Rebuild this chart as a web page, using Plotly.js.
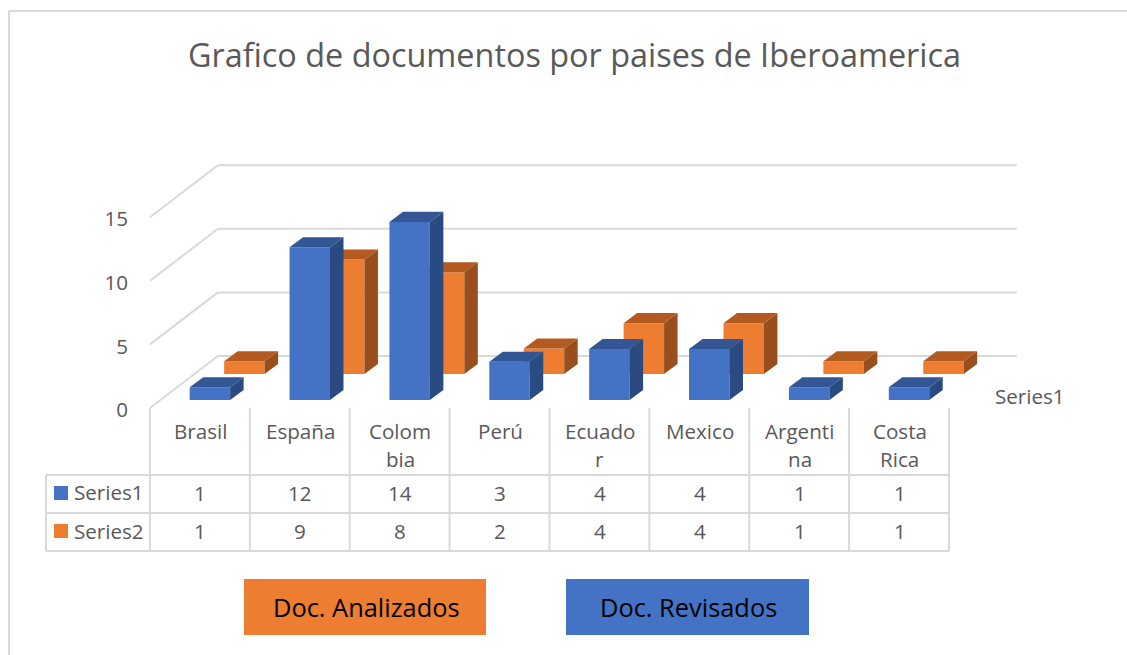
<!DOCTYPE html>
<html>
<head>
<meta charset="utf-8">
<script src="https://cdn.plot.ly/plotly-3.0.1.min.js"></script>
<style>html,body{margin:0;padding:0;background:#fff;overflow:hidden}#chart{width:1127px;height:655px}</style>
</head>
<body>
<div id="chart"></div>
<script>
// ---- data ----
const categories = ["Brasil", "España", "Colombia", "Perú", "Ecuador", "Mexico", "Argentina", "Costa Rica"];
const categoryLines = [["Brasil"], ["España"], ["Colom", "bia"], ["Perú"], ["Ecuado", "r"], ["Mexico"], ["Argenti", "na"], ["Costa", "Rica"]];
const series1 = [1, 12, 14, 3, 4, 4, 1, 1];
const series2 = [1, 9, 8, 2, 4, 4, 1, 1];
const seriesNames = ["Series1", "Series2"];
const yTicks = [0, 5, 10, 15];
const chartTitle = "Grafico de documentos por paises de Iberoamerica";
const depthLabel = "Series1";
const boxLabels = ["Doc. Analizados", "Doc. Revisados"];

// ---- layout constants (pixels of the 1127x655 page) ----
const W = 1127, H = 655;
const X0 = 150, XU = 99.87;      // pixel of category 0, pixels per category
const Y0 = 400, YU = 12.72;      // pixel of value 0 (front row), pixels per value
const BLUE = {front: "#4472c4", top: "#335694", side: "#2a4a82", off: 0.60, base: 0};
const ORNG = {front: "#ed7d31", top: "#b35a20", side: "#994f1d", off: 0.945, base: 2.04};
const BAR_W = 0.405, DX = 0.135, DY = 0.79;
const FLOOR_FRONT = -0.63, FLOOR_BACK = 3.46, BACK_L = 0.68, BACK_R = 8.68, LABEL_SHIFT = -0.16;
const GREY = "#d9d9d9", TXT = "#595959", FONT = "Open Sans, sans-serif", FS = 20.6;
const xRange = [-X0 / XU, (W - X0) / XU];
const yRange = [(Y0 - H) / YU, Y0 / YU];
const px = x => x / W, py = y => 1 - y / H;

function faces(values, s, xa, ya, name) {
  const xs = values.map((_, i) => i + s.off);
  const top = {x: [], y: []}, side = {x: [], y: []};
  values.forEach((v, i) => {
    const l = xs[i] - BAR_W / 2, r = xs[i] + BAR_W / 2, t = s.base + v, b = s.base;
    top.x.push(l, r, r + DX, l + DX, l, null);
    top.y.push(t, t, t + DY, t + DY, t, null);
    side.x.push(r, r + DX, r + DX, r, r, null);
    side.y.push(b, b + DY, t + DY, t, b, null);
  });
  const poly = (d, c) => ({type: "scatter", mode: "lines", x: d.x, y: d.y, fill: "toself", fillcolor: c,
    line: {width: 0, color: c}, xaxis: xa, yaxis: ya, hoverinfo: "skip", showlegend: false});
  return [
    {type: "bar", name: name, x: xs, y: values, base: s.base, width: BAR_W, marker: {color: s.front, line: {width: 0}},
     xaxis: xa, yaxis: ya, showlegend: false},
    poly(side, s.side), poly(top, s.top)
  ];
}
const traces = [...faces(series2, ORNG, "x", "y", seriesNames[1]), ...faces(series1, BLUE, "x2", "y2", seriesNames[0])];

const shapes = [], annotations = [];
const line = (x0, y0, x1, y1, w) => shapes.push({type: "line", xref: "paper", yref: "paper", x0: px(x0), y0: py(y0), x1: px(x1), y1: py(y1), layer: "below", line: {color: GREY, width: w || 2}});
const rect = (x0, y0, x1, y1, c) => shapes.push({type: "rect", xref: "paper", yref: "paper", x0: px(x0), y0: py(y0), x1: px(x1), y1: py(y1), layer: "below", fillcolor: c, line: {width: 0}});
const text = (s, x, y, size, color, anchor) => annotations.push({text: s, xref: "paper", yref: "paper", x: px(x), y: py(y), xanchor: anchor || "center", yanchor: "middle", showarrow: false, font: {family: FONT, size: size, color: color || TXT}});

// chart frame
line(9, 11, W, 11); line(9, 11, 9, H);

// perspective gridlines, in data coordinates
yTicks.forEach(v => {
  const g = {type: "line", layer: "below", xref: "x", yref: "y", line: {color: GREY, width: 2}};
  shapes.push({...g, x0: 0, y0: v + FLOOR_FRONT, x1: BACK_L, y1: v + FLOOR_BACK});
  shapes.push({...g, x0: BACK_L, y0: v + FLOOR_BACK, x1: BACK_R, y1: v + FLOOR_BACK});
});

// data table
const colX = i => X0 + XU * i;
for (let i = 0; i <= categories.length; i++) line(colX(i), 408, colX(i), 551);
line(46, 475, 46, 551);
[475, 513, 551].forEach(y => line(46, y, colX(categories.length), y));
categoryLines.forEach((ls, i) => {
  const cx = colX(i + 0.5) + 0.5;
  ls.forEach((s, k) => text(s, cx, 431 + 28 * k, FS));
  text(String(series1[i]), cx, 493, FS);
  text(String(series2[i]), cx, 531, FS);
});
rect(54, 486, 68, 500, BLUE.front); rect(54, 524, 68, 538, ORNG.front);
text(seriesNames[0], 71.5, 492, FS, TXT, "left");
text(seriesNames[1], 71.5, 531, FS, TXT, "left");
text(depthLabel, 992.5, 396, FS, TXT, "left");

// text boxes
rect(244, 579, 486, 635, ORNG.front); rect(566, 579, 809, 635, BLUE.front);
text(boxLabels[0], 366, 607, 25.4, "#000000");
text(boxLabels[1], 688, 607, 25.4, "#000000");

const layout = {
  width: W, height: H, margin: {l: 0, r: 0, t: 0, b: 0}, paper_bgcolor: "#ffffff", plot_bgcolor: "rgba(0,0,0,0)",
  font: {family: FONT, color: TXT},
  title: {text: chartTitle, x: 574.5 / W, xanchor: "center", y: py(56), yanchor: "middle", font: {family: FONT, size: 32.4, color: TXT}},
  barmode: "overlay", showlegend: false,
  xaxis: {range: xRange, visible: false, fixedrange: true},
  xaxis2: {range: xRange, visible: false, overlaying: "x", fixedrange: true},
  yaxis: {range: yRange, anchor: "free", position: px(X0), side: "left", showgrid: false, zeroline: false, showline: false, ticks: "",
    tickmode: "array", tickvals: yTicks.map(v => v + FLOOR_FRONT + LABEL_SHIFT), ticktext: yTicks.map(String), ticklabelstandoff: 22,
    tickfont: {family: FONT, size: FS, color: TXT}, fixedrange: true},
  yaxis2: {range: yRange, visible: false, overlaying: "y", anchor: "x2", fixedrange: true},
  shapes: shapes, annotations: annotations
};
Plotly.newPlot("chart", traces, layout, {displayModeBar: false, responsive: false});
</script>
</body>
</html>
